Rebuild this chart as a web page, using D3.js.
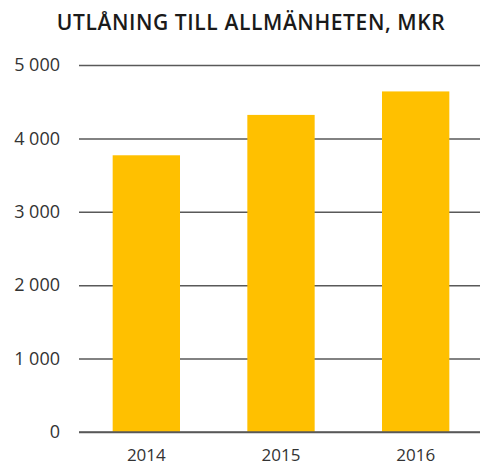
<!DOCTYPE html>
<html>
<head>
<meta charset="utf-8">
<script src="https://cdn.jsdelivr.net/npm/d3@7"></script>
<style>
  body { margin: 0; background: #fff; }
  svg { display: block; font-family: "Open Sans", sans-serif; }
</style>
</head>
<body>
<div id="chart"></div>
<script>
// Data
const years = ["2014", "2015", "2016"];
const values = [3770, 4320, 4640];
const yTicks = [0, 1000, 2000, 3000, 4000, 5000];
const title = "UTLÅNING TILL ALLMÄNHETEN, MKR";

const W = 480, H = 468;
const margin = { top: 65, right: -3, bottom: 36, left: 79 };
const width = W - margin.left - margin.right,
    height = H - margin.top - margin.bottom;

const svg = d3.select("#chart")
    .append("svg")
    .attr("width", W)
    .attr("height", H);

// Title
svg.append("text")
    .attr("x", 251)
    .attr("y", 30)
    .attr("text-anchor", "middle")
    .style("font-size", "21px")
    .style("font-weight", 600)
    .style("letter-spacing", "0.6px")
    .style("fill", "#1a1a1a")
    .text(title);

const g = svg.append("g")
    .attr("transform", `translate(${margin.left}, ${margin.top})`);

const x = d3.scaleBand()
    .domain(years)
    .range([0, width])
    .paddingInner(0.5)
    .paddingOuter(0.25);

const y = d3.scaleLinear()
    .domain([0, 5000])
    .range([height, 0]);

const fmt = d => d3.format(",")(d).replace(",", " ");

// Gridlines + y labels
g.append("g")
    .call(d3.axisLeft(y).tickValues(yTicks).tickSize(-width).tickFormat(fmt).tickPadding(19))
    .call(a => a.select(".domain").remove())
    .call(a => a.selectAll(".tick line").attr("stroke", "#595959").attr("stroke-width", 1.5))
    .call(a => a.selectAll(".tick text")
        .style("font-size", "18px")
        .style("fill", "#333")
        .attr("font-family", "Open Sans, sans-serif"));

// Bars
g.selectAll(".bar")
    .data(values)
    .join("rect")
    .attr("class", "bar")
    .attr("x", (d, i) => x(years[i]))
    .attr("width", x.bandwidth())
    .attr("y", d => y(d))
    .attr("height", d => height - y(d))
    .attr("fill", "#FFC000");

// Baseline on top of bars
g.append("line")
    .attr("x1", 0).attr("x2", width)
    .attr("y1", y(0)).attr("y2", y(0))
    .attr("stroke", "#595959").attr("stroke-width", 1.5);

// X labels
g.append("g")
    .attr("transform", `translate(0, ${height})`)
    .call(d3.axisBottom(x).tickSize(0).tickPadding(17))
    .call(a => a.select(".domain").remove())
    .call(a => a.selectAll(".tick text")
        .style("font-size", "17px")
        .style("fill", "#333")
        .attr("font-family", "Open Sans, sans-serif"));
</script>
</body>
</html>
